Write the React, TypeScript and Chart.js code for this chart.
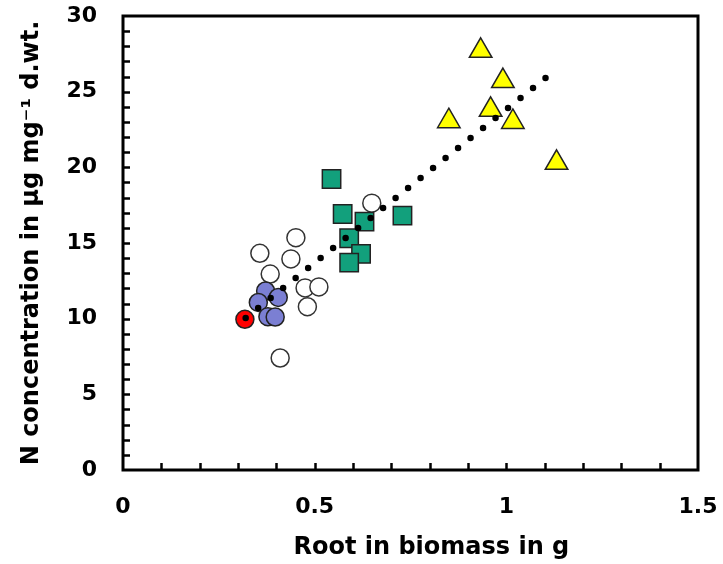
import React, { useEffect, useRef } from "react";
import { Chart, registerables } from "chart.js";

Chart.register(...registerables);

// Yellow triangles
const yellowX = [0.933, 0.991, 0.959, 0.85, 1.017, 1.131];
const yellowY = [27.7, 25.7, 23.8, 23.05, 23.0, 20.3];
// Green squares
const greenX = [0.544, 0.573, 0.729, 0.63, 0.59, 0.621, 0.59];
const greenY = [19.23, 16.92, 16.81, 16.41, 15.31, 14.28, 13.7];
// Open circles
const openX = [0.649, 0.451, 0.357, 0.438, 0.384, 0.475, 0.511, 0.481, 0.41];
const openY = [17.63, 15.35, 14.32, 13.95, 12.95, 12.03, 12.1, 10.79, 7.4];
// Blue circles
const blueX = [0.372, 0.405, 0.353, 0.378, 0.397];
const blueY = [11.83, 11.4, 11.07, 10.13, 10.11];
// Red circle
const redX = [0.318];
const redY = [9.96];
// Dotted trend line end points
const trendX = [0.32, 1.112];
const trendY = [10.05, 26.1];

const xTickLabels = ["0", "0.5", "1", "1.5"];
const yTickLabels = ["0", "5", "10", "15", "20", "25", "30"];

const FONT = "'DejaVu Sans', sans-serif";

const pts = (xs: number[], ys: number[]) => xs.map((x, i) => ({ x, y: ys[i] }));

const framePlugin = {
  id: "frame",
  afterDraw(chart: any) {
    const { ctx, chartArea, scales } = chart;
    const { left, right, top, bottom } = chartArea;
    const x = scales.x;
    const y = scales.y;
    ctx.save();
    ctx.strokeStyle = "#000";
    ctx.lineWidth = 2.5;
    ctx.beginPath();
    for (let i = 1; i < 15; i++) {
      const px = Math.round(x.getPixelForValue(i / 10)) + 0.5;
      ctx.moveTo(px, bottom);
      ctx.lineTo(px, bottom - 7);
    }
    for (let j = 1; j < 30; j++) {
      const py = Math.round(y.getPixelForValue(j)) + 0.5;
      ctx.moveTo(left, py);
      ctx.lineTo(left + 7, py);
    }
    ctx.stroke();
    ctx.lineWidth = 3;
    ctx.strokeRect(left, top, right - left, bottom - top);
    ctx.restore();
  },
};

export default function App() {
  const ref = useRef<HTMLCanvasElement | null>(null);

  useEffect(() => {
    if (!ref.current) return;
    const chart = new Chart(ref.current, {
      type: "scatter",
      data: {
        datasets: [
          {
            type: "line",
            label: "trend",
            data: pts(trendX, trendY),
            showLine: true,
            borderColor: "#000",
            borderWidth: 6.5,
            borderDash: [0, 16],
            borderCapStyle: "round",
            pointRadius: 0,
            fill: false,
            order: 0,
          } as any,
          {
            label: "red",
            data: pts(redX, redY),
            pointStyle: "circle",
            pointRadius: 9,
            backgroundColor: "#FF0000",
            borderColor: "#222",
            borderWidth: 1.5,
            order: 1,
          },
          {
            label: "blue",
            data: pts(blueX, blueY),
            pointStyle: "circle",
            pointRadius: 9,
            backgroundColor: "#7B7FD3",
            borderColor: "#222",
            borderWidth: 1.5,
            order: 2,
          },
          {
            label: "green",
            data: pts(greenX, greenY),
            pointStyle: "rect",
            pointRadius: 13,
            backgroundColor: "#12A07C",
            borderColor: "#222",
            borderWidth: 1.5,
            order: 3,
          },
          {
            label: "yellow",
            data: pts(yellowX, yellowY),
            pointStyle: "triangle",
            pointRadius: 13,
            backgroundColor: "#FFFF00",
            borderColor: "#222",
            borderWidth: 1.5,
            order: 4,
          },
          {
            label: "open",
            data: pts(openX, openY),
            pointStyle: "circle",
            pointRadius: 9,
            backgroundColor: "#FFFFFF",
            borderColor: "#333",
            borderWidth: 1.5,
            order: 5,
          },
        ],
      },
      options: {
        responsive: false,
        animation: false,
        events: [],
        layout: { padding: { left: 0, right: 25, top: 16, bottom: 0 } },
        plugins: { legend: { display: false }, tooltip: { enabled: false } },
        scales: {
          x: {
            type: "linear",
            min: 0,
            max: 1.5,
            grid: { display: false, drawTicks: false, tickLength: 0 },
            border: { display: false },
            afterFit: (s: any) => {
              s.height = 94;
              s.paddingLeft = 0;
              s.paddingRight = 0;
              s.paddingTop = 0;
              s.paddingBottom = 0;
            },
            ticks: {
              stepSize: 0.5,
              padding: 24,
              color: "#000",
              font: { family: FONT, size: 22, weight: "bold" },
              callback: (v: any) => {
                const i = Math.round(Number(v) / 0.5);
                return xTickLabels[i] ?? "";
              },
            },
            title: {
              display: true,
              text: "     Root in biomass in g",
              color: "#000",
              font: { family: FONT, size: 24, weight: "bold" },
              padding: { top: 0, bottom: 2 },
            },
          },
          y: {
            type: "linear",
            min: 0,
            max: 30,
            grid: { display: false, drawTicks: false, tickLength: 0 },
            border: { display: false },
            afterFit: (s: any) => {
              s.width = 123;
              s.paddingLeft = 0;
              s.paddingRight = 0;
              s.paddingTop = 0;
              s.paddingBottom = 0;
            },
            ticks: {
              stepSize: 5,
              padding: 26,
              color: "#000",
              font: { family: FONT, size: 22, weight: "bold" },
              callback: (v: any) => {
                const i = Math.round(Number(v) / 5);
                return yTickLabels[i] ?? "";
              },
            },
            title: {
              display: true,
              text: "N concentration in µg mg⁻¹ d.wt.",
              color: "#000",
              font: { family: FONT, size: 24, weight: "bold" },
              padding: { top: 17, bottom: 0 },
            },
          },
        },
      },
      plugins: [framePlugin],
    });
    return () => chart.destroy();
  }, []);

  return (
    <div style={{ position: "absolute", left: 0, top: 0, width: 723, height: 564, background: "#fff" }}>
      <canvas ref={ref} width={723} height={564} />
    </div>
  );
}
